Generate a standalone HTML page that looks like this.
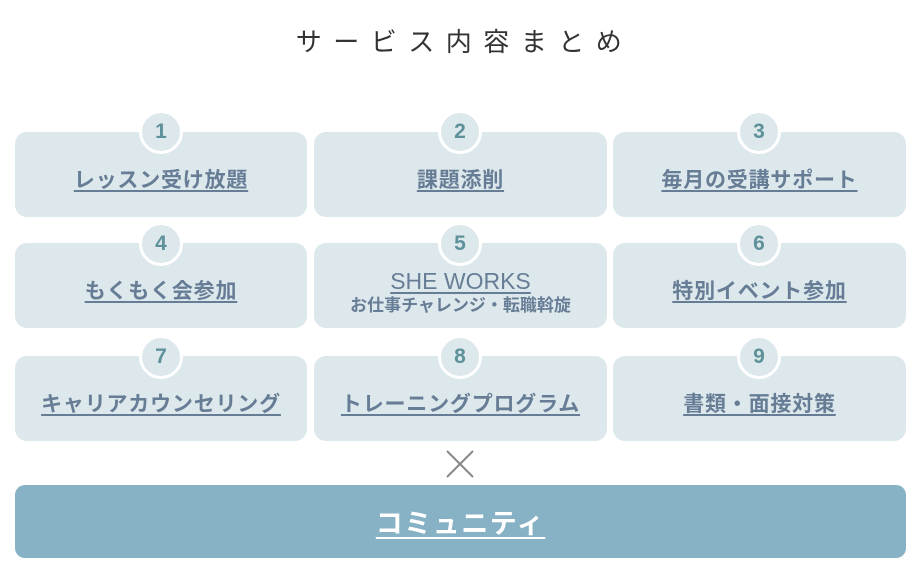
<!DOCTYPE html>
<html><head><meta charset="utf-8"><style>
body{margin:0;width:917px;height:588px;background:#fff;font-family:"Liberation Sans","Noto Sans CJK JP",sans-serif;position:relative;overflow:hidden}
.t{position:absolute;left:6px;width:917px;top:22px;text-align:center;font-size:26px;letter-spacing:11.5px;color:#333;font-family:"Noto Sans CJK JP",sans-serif}
.b{position:absolute;background:#dde8ec;border-radius:12px;height:85px;text-align:center;color:#677d96;font-weight:bold;font-size:21px;font-family:"Noto Sans CJK JP",sans-serif}
.b .l{position:absolute;left:0;right:0;top:32px;text-decoration:underline;text-underline-offset:3px;line-height:30px;letter-spacing:0.8px}
.c{position:absolute;width:38px;height:38px;border-radius:50%;background:#dde8ec;border:3px solid #fff;color:#5e9199;font-size:21px;font-weight:bold;text-align:center;line-height:38px;font-family:"Liberation Sans",sans-serif}
.cm{position:absolute;left:15px;top:485px;width:891px;height:73px;background:#87b1c4;border-radius:10px;text-align:center;color:#fff;font-size:27px;font-weight:bold;line-height:73px;font-family:"Noto Sans CJK JP",sans-serif}
.cm span{text-decoration:underline;text-underline-offset:4px;letter-spacing:1.5px}
</style></head><body>
<div class="t">サービス内容まとめ</div>

<div class="b" style="left:15px;top:132px;width:292px"><div class="l">レッスン受け放題</div></div>
<div class="b" style="left:314px;top:132px;width:293px"><div class="l">課題添削</div></div>
<div class="b" style="left:613px;top:132px;width:293px"><div class="l">毎月の受講サポート</div></div>
<div class="b" style="left:15px;top:243px;width:292px"><div class="l">もくもく会参加</div></div>
<div class="b" style="left:314px;top:243px;width:293px"><div class="l" style="top:25px;line-height:26px;font-family:'Liberation Sans',sans-serif;font-weight:normal;font-size:23px;letter-spacing:0">SHE WORKS</div><div style="position:absolute;left:0;right:0;top:50px;font-size:17px;line-height:22px">お仕事チャレンジ・転職斡旋</div></div>
<div class="b" style="left:613px;top:243px;width:293px"><div class="l">特別イベント参加</div></div>
<div class="b" style="left:15px;top:356px;width:292px"><div class="l">キャリアカウンセリング</div></div>
<div class="b" style="left:314px;top:356px;width:293px"><div class="l">トレーニングプログラム</div></div>
<div class="b" style="left:613px;top:356px;width:293px"><div class="l">書類・面接対策</div></div>

<div class="c" style="left:139px;top:110px">1</div>
<div class="c" style="left:438px;top:110px">2</div>
<div class="c" style="left:737px;top:110px">3</div>
<div class="c" style="left:139px;top:222px">4</div>
<div class="c" style="left:438px;top:222px">5</div>
<div class="c" style="left:737px;top:222px">6</div>
<div class="c" style="left:139px;top:335px">7</div>
<div class="c" style="left:438px;top:335px">8</div>
<div class="c" style="left:737px;top:335px">9</div>

<svg style="position:absolute;left:446px;top:450px" width="28" height="28"><path d="M1 1L27 27M27 1L1 27" stroke="#888" stroke-width="2"/></svg>
<div class="cm"><span>コミュニティ</span></div>
</body></html>
